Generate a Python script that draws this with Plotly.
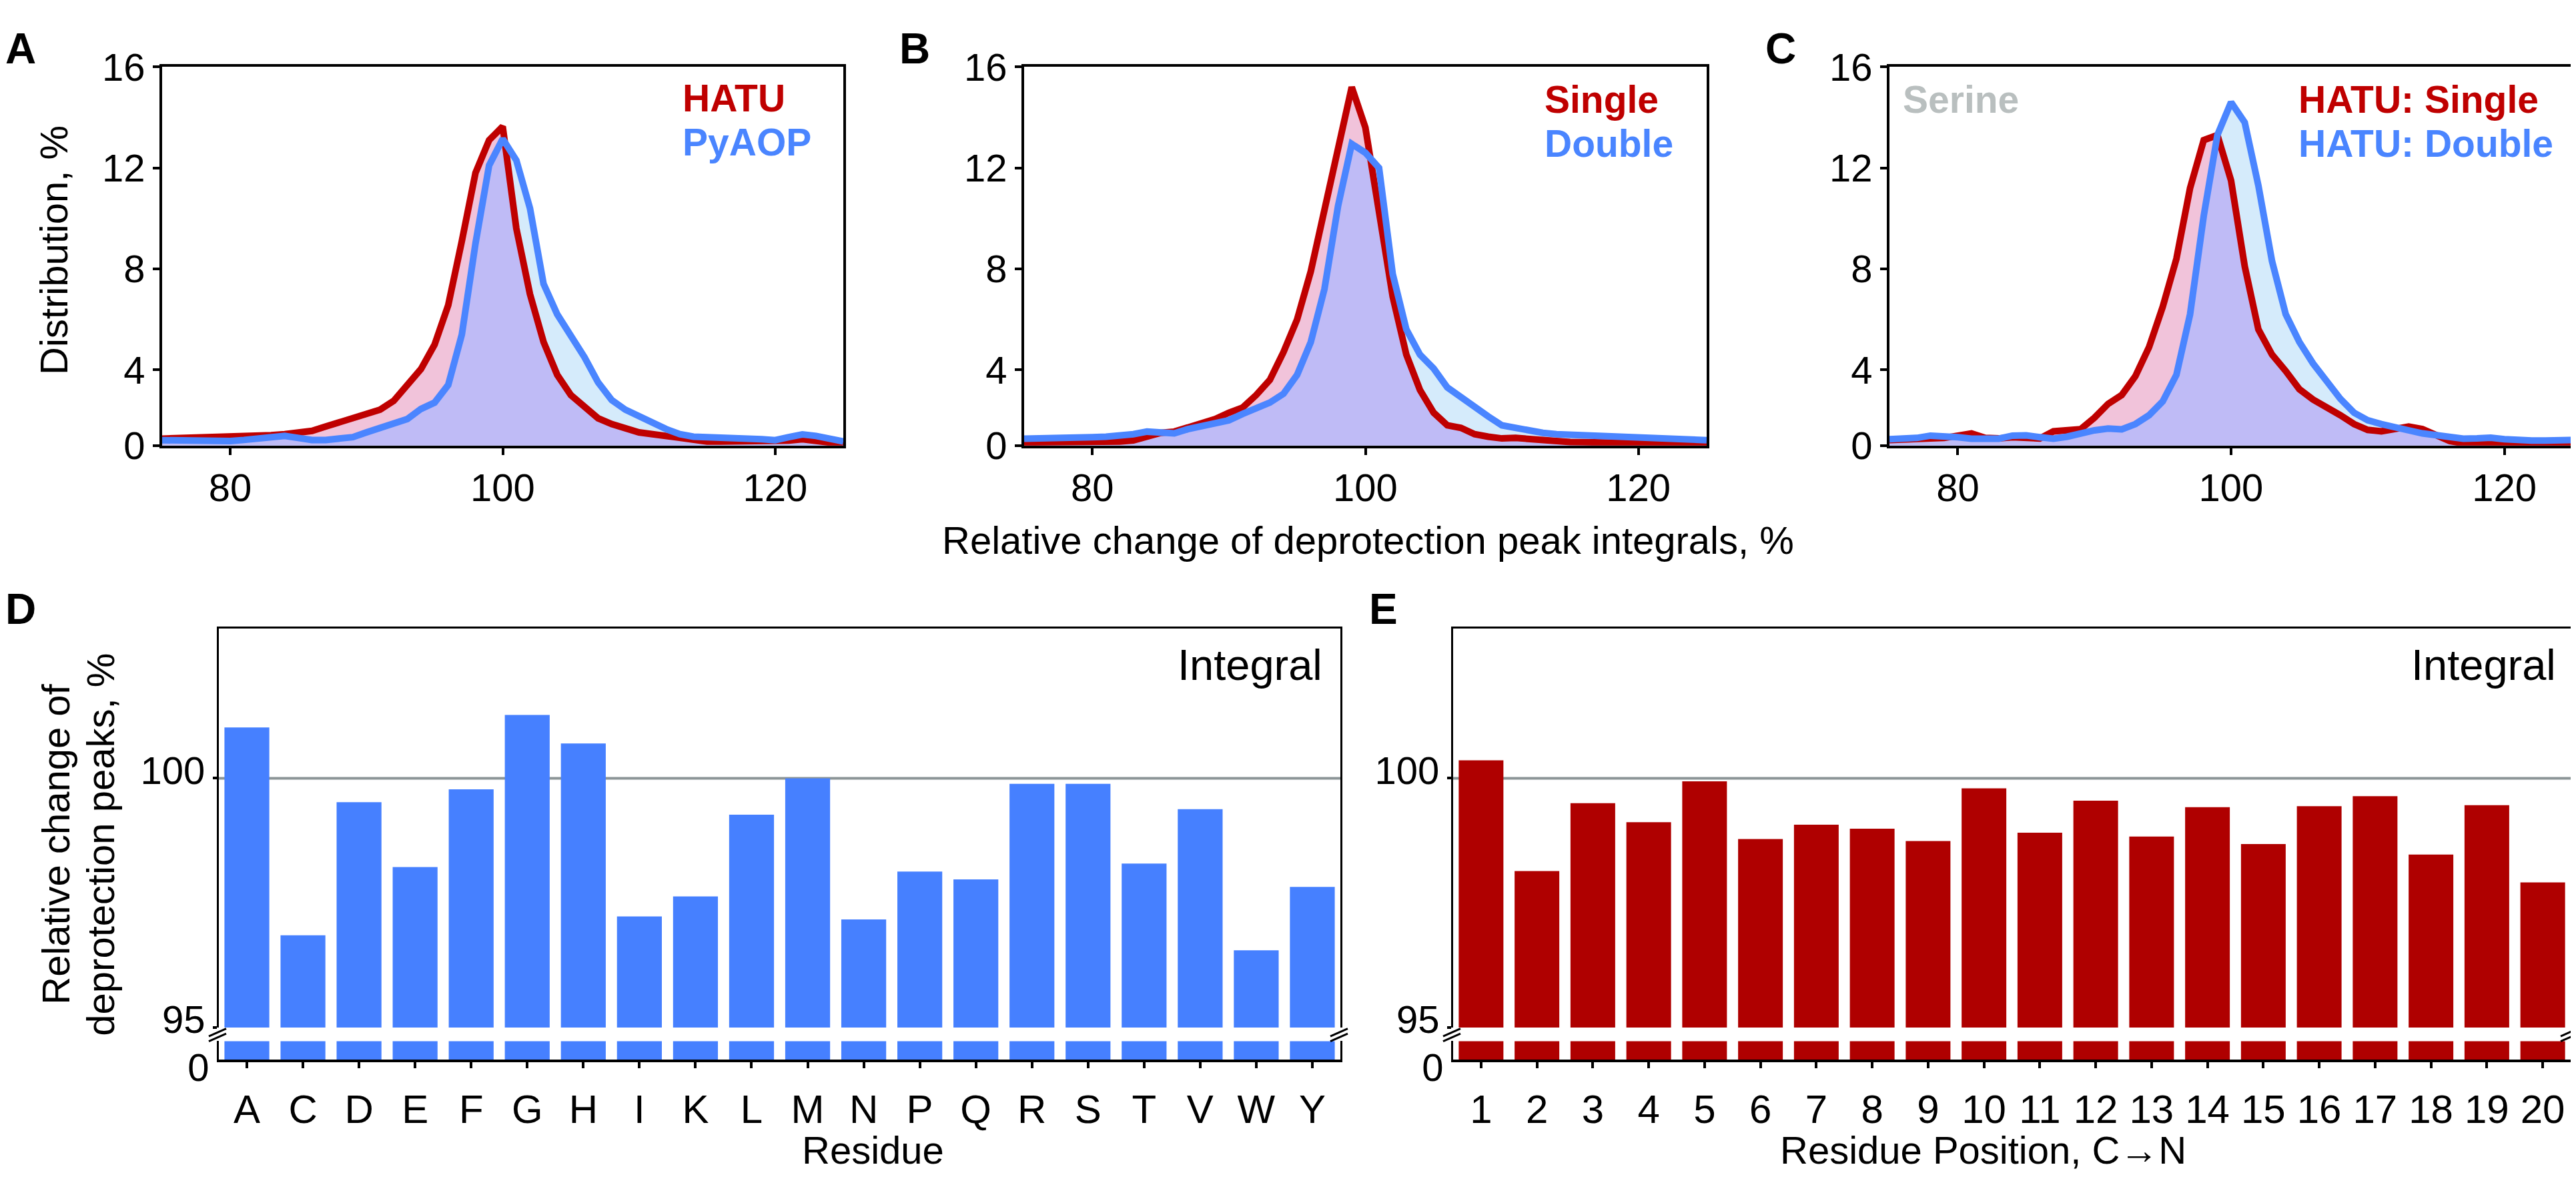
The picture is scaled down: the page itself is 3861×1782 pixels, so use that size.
import numpy as np
import plotly.graph_objects as go

# ---------------- data ----------------
X_GRID = list(range(75, 126))  # relative change, %

HATU_A = [1.27, 1.28, 1.29, 1.30, 1.32, 1.33, 1.35, 1.38, 1.41, 1.45,
          1.52, 1.58, 1.75, 1.92, 2.05, 2.2, 2.42, 2.77, 3.4, 4.03,
          5.0, 6.56, 9.1, 11.8, 13.1, 13.64, 9.6, 7.0, 5.1, 3.8,
          3.0, 2.5, 2.08, 1.85, 1.65, 1.52, 1.45, 1.38, 1.3, 1.2,
          1.16, 1.16, 1.16, 1.15, 1.15, 1.15, 1.2, 1.25, 1.2, 1.12,
          1.05]
PYAOP_A = [1.21, 1.2, 1.2, 1.19, 1.18, 1.18, 1.22, 1.28, 1.36, 1.38,
           1.3, 1.22, 1.22, 1.25, 1.33, 1.52, 1.7, 1.82, 2.05, 2.45,
           2.7, 3.4, 5.4, 9.0, 12.1, 13.15, 12.3, 10.4, 7.4, 6.2,
           5.4, 4.5, 3.5, 2.8, 2.42, 2.15, 1.9, 1.65, 1.45, 1.35,
           1.33, 1.33, 1.28, 1.27, 1.25, 1.21, 1.33, 1.44, 1.38, 1.25,
           1.16]
SINGLE_B = [1.12, 1.12, 1.12, 1.13, 1.14, 1.15, 1.15, 1.16, 1.2, 1.35,
            1.5, 1.55, 1.72, 1.88, 2.05, 2.3, 2.5, 3.0, 3.6, 4.7,
            6.0, 7.9, 10.4, 12.8, 15.2, 13.6, 10.4, 6.9, 4.6, 3.2,
            2.3, 1.8, 1.7, 1.45, 1.35, 1.28, 1.3, 1.25, 1.2, 1.16,
            1.14, 1.13, 1.12, 1.12, 1.11, 1.1, 1.1, 1.1, 1.08, 1.06,
            1.05]
DOUBLE_B = [1.27, 1.27, 1.28, 1.3, 1.32, 1.33, 1.35, 1.38, 1.45, 1.55,
            1.5, 1.48, 1.65, 1.75, 1.85, 2.0, 2.25, 2.5, 2.7, 3.05,
            3.8, 5.1, 7.2, 10.5, 12.95, 12.6, 12.0, 7.8, 5.6, 4.6,
            4.05, 3.3, 2.9, 2.5, 2.15, 1.8, 1.68, 1.58, 1.5, 1.45,
            1.43, 1.42, 1.41, 1.38, 1.35, 1.33, 1.33, 1.33, 1.3, 1.25,
            1.21]
SINGLE_C = [1.22, 1.22, 1.25, 1.28, 1.3, 1.4, 1.48, 1.3, 1.28, 1.33,
            1.3, 1.28, 1.56, 1.62, 1.65, 2.1, 2.65, 3.0, 3.75, 4.9,
            6.5, 8.4, 11.2, 13.1, 13.3, 11.5, 8.1, 5.6, 4.6, 3.95,
            3.23, 2.82, 2.54, 2.2, 1.85, 1.62, 1.56, 1.65, 1.75, 1.65,
            1.39, 1.18, 1.08, 1.05, 1.04, 1.04, 1.04, 1.04, 1.04, 1.04,
            1.04]
DOUBLE_C = [1.25, 1.26, 1.3, 1.39, 1.39, 1.33, 1.27, 1.27, 1.27, 1.39,
            1.4, 1.33, 1.27, 1.35, 1.5, 1.6, 1.67, 1.64, 1.85, 2.2,
            2.75, 3.8, 6.2, 10.1, 13.3, 14.6, 13.8, 11.3, 8.3, 6.2,
            5.1, 4.25, 3.55, 2.85, 2.3, 2.0, 1.85, 1.7, 1.6, 1.48,
            1.39, 1.33, 1.27, 1.28, 1.31, 1.25, 1.2, 1.2, 1.2, 1.21,
            1.22]

DIST_Y_TICKVALS = [1.0, 4, 8, 12, 16]
DIST_Y_TICKTEXT = ["0", "4", "8", "12", "16"]
DIST_X_TICKVALS = [80, 100, 120]

RESIDUES = ["A", "C", "D", "E", "F", "G", "H", "I", "K", "L",
            "M", "N", "P", "Q", "R", "S", "T", "V", "W", "Y"]
RESIDUE_VALUES = [101.02, 96.85, 99.52, 98.22, 99.78, 101.27, 100.70, 97.23, 97.63, 99.27,
                  100.0, 97.17, 98.13, 97.97, 99.89, 99.89, 98.29, 99.38, 96.55, 97.82]
POSITIONS = list(range(1, 21))
POSITION_VALUES = [100.36, 98.14, 99.50, 99.12, 99.94, 98.78, 99.07, 98.99, 98.74, 99.80,
                   98.91, 99.55, 98.83, 99.42, 98.68, 99.44, 99.64, 98.47, 99.46, 97.91]

# ---------------- style ----------------
W, H = 3861, 1782
FONT = "Liberation Sans, Arial, Helvetica, sans-serif"
FS = 58
RED_LINE = "#BF0000"
BLUE_LINE = "#4A85FF"
PINK_FILL = "#F1C3DA"
LBLUE_FILL = "#D5EBFB"
LAV_FILL = "#BFBBF6"
BAR_BLUE = "#4680FF"
BAR_RED = "#AF0000"
SERINE_GRAY = "#B9BFBF"
LW = 10
AXW = 4


def fx(p):
    return p / W


def fy(p):
    return 1 - p / H


# panel geometry (pixels)
TOP_Y = (62, 655)
TOP_X = [(235, 1256), (1527, 2550), (2824, 3848)]
BOT_UP_Y = (942, 1566.7)
BOT_LO_Y = (1588, 1617)
BOT_X = [(320, 2001), (2170, 3845)]

fig = go.Figure()
layout = dict(
    width=W, height=H, autosize=False,
    margin=dict(l=0, r=0, t=0, b=0),
    paper_bgcolor="white", plot_bgcolor="rgba(0,0,0,0)",
    showlegend=False, bargap=0.2,
    font=dict(family=FONT, size=FS, color="black"),
)

axis_common = dict(showline=True, linecolor="black", linewidth=AXW, showgrid=False,
                   zeroline=False, ticks="outside", tickwidth=AXW, tickcolor="black",
                   tickfont=dict(family=FONT, size=FS, color="black"))

panels = [(HATU_A, PYAOP_A), (SINGLE_B, DOUBLE_B), (SINGLE_C, DOUBLE_C)]
for i, (red, blue) in enumerate(panels):
    n = "" if i == 0 else str(i + 1)
    xa, ya = "x" + n, "y" + n
    red_a = np.array(red)
    blue_a = np.array(blue)
    both = np.minimum(red_a, blue_a)
    for yv, col in [(red_a, PINK_FILL), (blue_a, LBLUE_FILL), (both, LAV_FILL)]:
        fig.add_trace(go.Scatter(x=X_GRID, y=yv, mode="lines", line=dict(width=0),
                                 fill="tozeroy", fillcolor=col, xaxis=xa, yaxis=ya,
                                 hoverinfo="skip"))
    fig.add_trace(go.Scatter(x=X_GRID, y=red_a, mode="lines",
                             line=dict(color=RED_LINE, width=LW), xaxis=xa, yaxis=ya))
    fig.add_trace(go.Scatter(x=X_GRID, y=blue_a, mode="lines",
                             line=dict(color=BLUE_LINE, width=LW), xaxis=xa, yaxis=ya))
    x0, x1 = TOP_X[i]
    layout["xaxis" + n] = dict(axis_common, domain=[fx(x0), fx(x1)], range=[75, 125],
                               tickvals=DIST_X_TICKVALS, ticklen=10, mirror=True,
                               anchor=ya)
    layout["yaxis" + n] = dict(axis_common, domain=[fy(TOP_Y[1]), fy(TOP_Y[0])],
                               range=[DIST_Y_TICKVALS[0], 16], tickvals=DIST_Y_TICKVALS,
                               ticktext=DIST_Y_TICKTEXT, ticklen=10, mirror=True,
                               anchor=xa)

# bottom bar panels: (upper axis idx, lower axis idx)
bar_sets = [
    (RESIDUES, RESIDUE_VALUES, BAR_BLUE, 4, 5, [-0.5, 19.5], None),
    (POSITIONS, POSITION_VALUES, BAR_RED, 6, 7, [0.5, 20.5], POSITIONS),
]
shapes = []
for j, (cats, vals, col, up, lo, xr, tv) in enumerate(bar_sets):
    x0, x1 = BOT_X[j]
    for ax in (up, lo):
        fig.add_trace(go.Bar(x=cats, y=vals, marker=dict(color=col, line=dict(width=0)),
                             xaxis="x%d" % ax, yaxis="y%d" % ax))
    xdom = [fx(x0), fx(x1)]
    layout["xaxis%d" % up] = dict(axis_common, domain=xdom, range=xr, side="top",
                                  ticks="", showticklabels=False, anchor="y%d" % up,
                                  linewidth=3)
    layout["yaxis%d" % up] = dict(axis_common, domain=[fy(BOT_UP_Y[1]), fy(BOT_UP_Y[0])],
                                  range=[95, 103], tickvals=[95, 100], ticklen=6,
                                  mirror=True, anchor="x%d" % up, linewidth=3,
                                  ticklabelshift=-12)
    xlo = dict(axis_common, domain=xdom, range=xr, ticklen=9, anchor="y%d" % lo,
               ticklabelstandoff=10,
               tickfont=dict(family=FONT, size=60, color="black"))
    if tv is not None:
        xlo["tickvals"] = tv
    else:
        xlo["type"] = "category"
    layout["xaxis%d" % lo] = xlo
    layout["yaxis%d" % lo] = dict(axis_common, domain=[fy(BOT_LO_Y[1]), fy(BOT_LO_Y[0])],
                                  range=[0, 1], tickvals=[0], ticktext=["0"], ticks="",
                                  mirror=True, anchor="x%d" % lo, linewidth=3,
                                  ticklabelshift=12)
    if tv is None:
        layout["xaxis%d" % up]["type"] = "category"
    # reference line at 100
    shapes.append(dict(type="line", xref="x%d domain" % up, yref="y%d" % up,
                       x0=0, x1=1, y0=100, y1=100, layer="below",
                       line=dict(color="#8C9597", width=4)))
    # axis break marks
    gmid = (BOT_UP_Y[1] + BOT_LO_Y[0]) / 2
    for axp in (x0, x1):
        for dy in (-4, 4):
            shapes.append(dict(type="line", xref="paper", yref="paper",
                               x0=fx(axp - 15), x1=fx(axp + 11),
                               y0=fy(gmid + dy + 7), y1=fy(gmid + dy - 5),
                               line=dict(color="black", width=3)))

layout["shapes"] = shapes

annotations = []


def ann(text, xp, yp, size=FS, color="black", bold=False, xanchor="center",
        yanchor="middle", angle=0):
    annotations.append(dict(text=text, x=fx(xp), y=fy(yp), xref="paper", yref="paper",
                            showarrow=False, xanchor=xanchor, yanchor=yanchor,
                            textangle=angle,
                            font=dict(family=FONT, size=size, color=color,
                                      weight="bold" if bold else "normal")))


# panel letters
for letter, xp, yp in [("A", -2, 33), ("B", 1338, 33), ("C", 2636, 33),
                       ("D", -2, 911), ("E", 2042, 911)]:
    ann(letter, xp, yp, size=64, bold=True, xanchor="left")

# legends inside distribution panels
ann("HATU", 1013, 111, size=57, color=RED_LINE, bold=True, xanchor="left")
ann("PyAOP", 1013, 180, size=57, color=BLUE_LINE, bold=True, xanchor="left")
ann("Single", 2305, 113, size=57, color=RED_LINE, bold=True, xanchor="left")
ann("Double", 2305, 182, size=57, color=BLUE_LINE, bold=True, xanchor="left")
ann("Serine", 2842, 113, size=57, color=SERINE_GRAY, bold=True, xanchor="left")
ann("HATU: Single", 3435, 113, size=57, color=RED_LINE, bold=True, xanchor="left")
ann("HATU: Double", 3435, 182, size=57, color=BLUE_LINE, bold=True, xanchor="left")

# axis titles
ann("Distribution, %", 73, 349, angle=-90)
ann("Relative change of deprotection peak integrals, %", 2043, 803)
ann("Relative change of", 76, 1280, angle=-90)
ann("deprotection peaks, %", 143, 1280, angle=-90)
ann("Residue", 1300, 1758)
ann("Residue Position, C\u2192N", 2964, 1758)
ann("Integral", 1976, 999, size=65, xanchor="right")
ann("Integral", 3825, 999, size=65, xanchor="right")

layout["annotations"] = annotations
fig.update_layout(**layout)
fig.write_html("out.html")
